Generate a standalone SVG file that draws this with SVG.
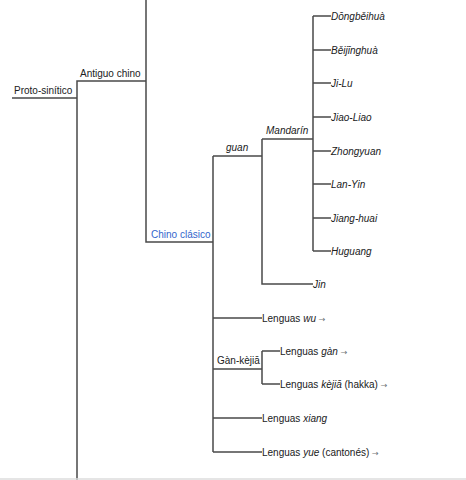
<svg xmlns="http://www.w3.org/2000/svg" width="466" height="480" viewBox="0 0 466 480">
<style>
text{font-family:"Liberation Sans",Arial,sans-serif;font-size:10px;fill:#202122}
.i{font-style:italic}
.lk{fill:#3366cc}
.ar{fill:#72777d;font-family:"DejaVu Sans",sans-serif;font-size:8px}
.c{fill:none;stroke:#4a4a4a;stroke-width:1.5}
</style>
<rect width="466" height="480" fill="#fff"/>
<g id="connectors">
<path class="c" d="M12 98H77M77 480V81H146V0M146 81V242H213"/>
<path class="c" d="M213 156H262M213 156V452M262 139H313M262 139V284H313M313 16V251"/>
<path class="c" d="M313 16H331M313 50H331M313 83H331M313 117H331M313 151H331M313 184H331M313 218H331M313 251H331"/>
<path class="c" d="M213 318H262M213 369H262M213 418H262M213 452H262M262 351V384M262 351H280M262 384H280"/>
<path d="M0 479H466" stroke="#ddd" stroke-width="1.5"/>
</g>
<g id="proto"><text x="14" y="94">Proto-sinítico</text></g>
<g id="antiguo"><text x="80" y="77">Antiguo chino</text></g>
<g id="clasico"><text class="lk" x="151" y="238">Chino clásico</text></g>
<g id="guan"><text class="i" x="226" y="151">guan</text></g>
<g id="mandarin"><text class="i" x="266" y="134">Mandarín</text></g>
<g id="dongbei"><text class="i" x="331" y="20">Dōngběihuà</text></g>
<g id="beijing"><text class="i" x="331" y="54">Běijīnghuà</text></g>
<g id="jilu"><text class="i" x="331" y="87">Ji-Lu</text></g>
<g id="jiaoliao"><text class="i" x="331" y="121">Jiao-Liao</text></g>
<g id="zhongyuan"><text class="i" x="331" y="155">Zhongyuan</text></g>
<g id="lanyin"><text class="i" x="331" y="188">Lan-Yin</text></g>
<g id="jianghuai"><text class="i" x="331" y="222">Jiang-huai</text></g>
<g id="huguang"><text class="i" x="331" y="255">Huguang</text></g>
<g id="jin"><text class="i" x="313" y="288">Jin</text></g>
<g id="wu"><text x="262" y="322">Lenguas <tspan class="i">wu</tspan> <tspan class="ar">→</tspan></text></g>
<g id="gankejia"><text x="217" y="364">Gàn-kèjiā</text></g>
<g id="gan"><text x="280" y="355">Lenguas <tspan class="i">gàn</tspan> <tspan class="ar">→</tspan></text></g>
<g id="kejia"><text x="280" y="388">Lenguas <tspan class="i">kèjiā</tspan> (hakka) <tspan class="ar">→</tspan></text></g>
<g id="xiang"><text x="262" y="422">Lenguas <tspan class="i">xiang</tspan></text></g>
<g id="yue"><text x="262" y="456">Lenguas <tspan class="i">yue</tspan> (cantonés) <tspan class="ar">→</tspan></text></g>
</svg>
